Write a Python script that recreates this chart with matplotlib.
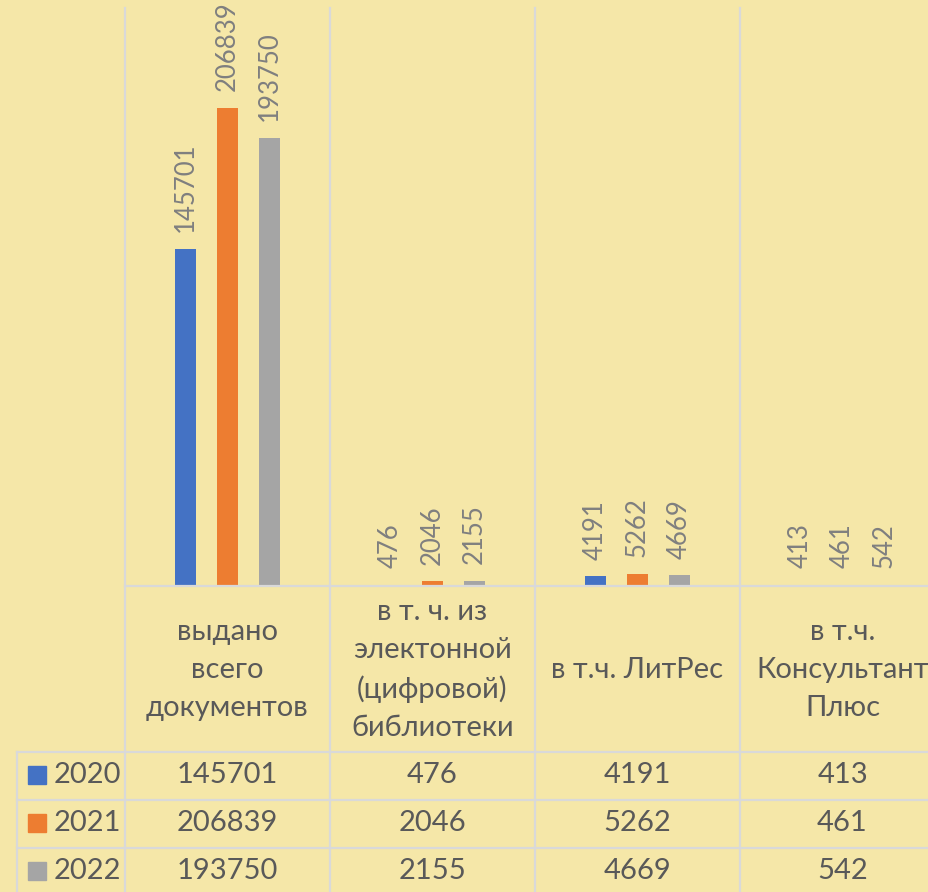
import matplotlib
matplotlib.use("Agg")
import matplotlib.pyplot as plt
from matplotlib.lines import Line2D
from matplotlib.patches import Rectangle
import numpy as np

categories = ["выдано\nвсего\nдокументов",
              "в т. ч. из\nэлектонной\n(цифровой)\nбиблиотеки",
              "в т.ч. ЛитРес",
              "в т.ч.\nКонсультант\nПлюс"]
years = ["2020", "2021", "2022"]
v2020 = [145701, 476, 4191, 413]
v2021 = [206839, 2046, 5262, 461]
v2022 = [193750, 2155, 4669, 542]
series = [v2020, v2021, v2022]
colors = ["#4472C4", "#ED7D31", "#A5A5A5"]

bg = "#F5E7A8"
grid_c = "#D9D9D9"
txt_c = "#595959"
lab_c = "#7F7F7F"
plt.rcParams['font.family'] = ['Lato', 'DejaVu Sans']

W, H = 929, 892
fig = plt.figure(figsize=(W / 100, H / 100), dpi=100, facecolor=bg)

def fx(px):
    return px / W

def fy(py):
    return 1 - py / H

left_px, right_px, top_px, base_px = 125, 945, 8, 586
ax = fig.add_axes([fx(left_px), fy(base_px), fx(right_px - left_px), (base_px - top_px) / H])
ax.set_facecolor("none")
ax.set_xlim(-0.5, 3.5)
ax.set_ylim(0, 250000)
for s in ax.spines.values():
    s.set_visible(False)
ax.set_xticks([])
ax.set_yticks([])

x = np.arange(len(categories))
bw = 0.107
offs = [-0.205, 0, 0.205]
for vals, c, o in zip(series, colors, offs):
    bars = ax.bar(x + o, vals, width=bw, color=c, zorder=3)
    for b, v in zip(bars, vals):
        ax.annotate(str(v), (b.get_x() + b.get_width() / 2, v), xytext=(0, 12),
                    textcoords="offset points", rotation=90, ha="center", va="bottom",
                    fontsize=18.5, color=lab_c)

# table / grid lines in figure pixels
col_px = [left_px + i * 205 for i in range(5)]
row_px = [752, 800, 848, 896]
lw = 1.6
for cx in col_px:
    fig.add_artist(Line2D([fx(cx), fx(cx)], [fy(top_px), fy(H + 5)], color=grid_c, lw=lw))
fig.add_artist(Line2D([fx(17), fx(17)], [fy(752), fy(H + 5)], color=grid_c, lw=lw))
fig.add_artist(Line2D([fx(left_px), fx(W + 20)], [fy(base_px), fy(base_px)], color=grid_c, lw=lw))
for ry in row_px[:-1]:
    fig.add_artist(Line2D([fx(17), fx(W + 20)], [fy(ry), fy(ry)], color=grid_c, lw=lw))

# header labels
for i, cat in enumerate(categories):
    cx = (col_px[i] + col_px[i + 1]) / 2
    fig.text(fx(cx), fy(670), cat, ha="center", va="center", fontsize=21,
             color=txt_c, linespacing=1.55)

# data rows
for r, (yr, vals, c) in enumerate(zip(years, series, colors)):
    cy = (row_px[r] + row_px[r + 1]) / 2 - 1
    fig.add_artist(Rectangle((fx(28), fy(cy + 9)), fx(18), 18 / H, color=c))
    fig.text(fx(54), fy(cy), yr, ha="left", va="center", fontsize=21, color=txt_c)
    for i, v in enumerate(vals):
        cx = (col_px[i] + col_px[i + 1]) / 2
        fig.text(fx(cx), fy(cy), str(v), ha="center", va="center", fontsize=21, color=txt_c)

fig.savefig("out.png", dpi=100, facecolor=bg)
